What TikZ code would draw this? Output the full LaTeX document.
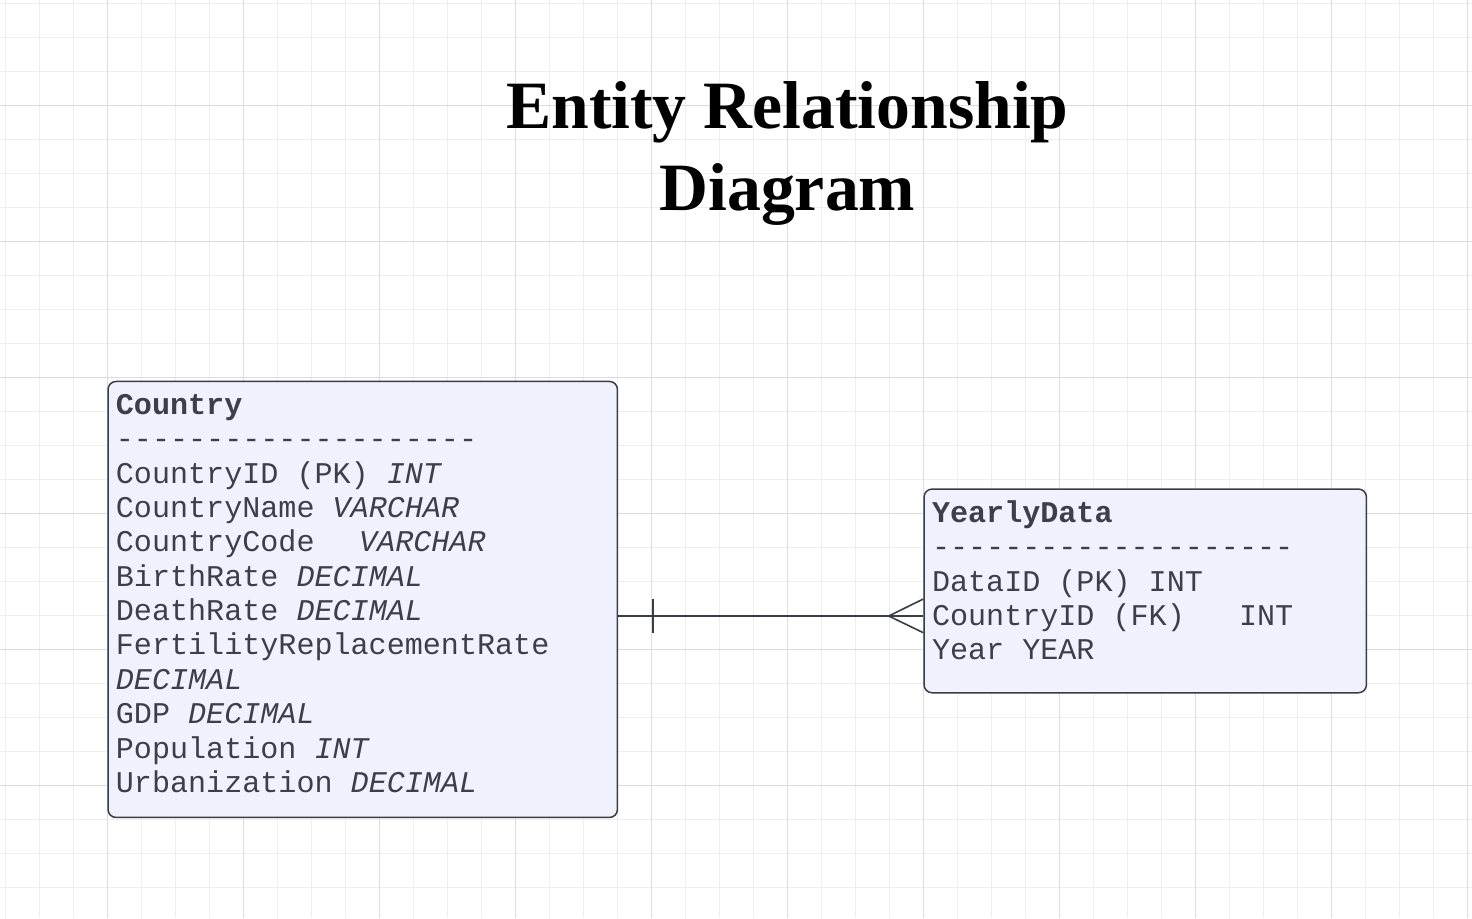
\documentclass[tikz,border=0pt]{standalone}
\usepackage{fontspec}
\setmainfont{Liberation Serif}
\setmonofont{Liberation Mono}
\usetikzlibrary{calc}
\definecolor{gridminor}{HTML}{EEEEEE}
\definecolor{gridmajor}{HTML}{DCDCDC}
\definecolor{ink}{HTML}{3C3F4A}
\definecolor{boxfill}{HTML}{F1F1FE}
\definecolor{edgecol}{HTML}{3A3D48}
\newcommand\erhy{\mbox{-}}
\newcommand\erdashrow{\erhy\erhy\erhy\erhy\erhy\erhy\erhy\erhy\erhy\erhy\erhy\erhy\erhy\erhy\erhy\erhy\erhy\erhy\erhy\erhy}
\begin{document}
\begin{tikzpicture}[x=1pt,y=-1pt,
  entity/.style={draw=edgecol, fill=boxfill, line width=1.5pt, rounded corners=8pt, inner sep=0pt, anchor=north west},
  field/.style={anchor=base west, inner sep=0pt, text=ink, font=\ttfamily\fontsize{30.1}{34.35}\selectfont},
  titletext/.style={anchor=base, inner sep=0pt, text=black, font=\bfseries\fontsize{67.7}{81.7}\selectfont},
  relation/.style={draw=edgecol, line width=1.6pt},
  minorline/.style={draw=gridminor, line width=0.8pt},
  majorline/.style={draw=gridmajor, line width=1pt}]
\useasboundingbox (0,0) rectangle (1472,918);
\fill[white] (0,0) rectangle (1472,918);
% grid
\foreach \x in {5.3,39.3,...,1472} \draw[minorline] (\x,0) -- (\x,918);
\foreach \y in {3.3,37.3,...,918} \draw[minorline] (0,\y) -- (1472,\y);
\foreach \x in {107.3,243.3,...,1472} \draw[majorline] (\x,0) -- (\x,918);
\foreach \y in {105.3,241.3,...,918} \draw[majorline] (0,\y) -- (1472,\y);
% title
\node[titletext] (title1) at (787.4,128.3) {Entity Relationship};
\node[titletext] (title2) at (787.4,210) {Diagram};
% entities
\node[entity, minimum width=509.4pt, minimum height=436pt] (country) at (107.3,380.7) {};
\node[entity, minimum width=442.4pt, minimum height=203.7pt] (yearly) at (923.3,488.3) {};
% Country fields
\node[field] (c0) at (115.7,414.5) {\textbf{Country}};
\node[field] (c1) at (115.7,448.85) {\erdashrow};
\node[field] (c2) at (115.7,483.2) {CountryID (PK) \textit{INT}};
\node[field] (c3) at (115.7,517.55) {CountryName \textit{VARCHAR}};
\node[field] (c4) at (115.7,551.9) {CountryCode \hspace*{26.5pt}\textit{VARCHAR}};
\node[field] (c5) at (115.7,586.25) {BirthRate \textit{DECIMAL}};
\node[field] (c6) at (115.7,620.6) {DeathRate \textit{DECIMAL}};
\node[field] (c7) at (115.7,654.95) {FertilityReplacementRate};
\node[field] (c8) at (115.7,689.3) {\textit{DECIMAL}};
\node[field] (c9) at (115.7,723.65) {GDP \textit{DECIMAL}};
\node[field] (c10) at (115.7,758.0) {Population \textit{INT}};
\node[field] (c11) at (115.7,792.35) {Urbanization \textit{DECIMAL}};
% YearlyData fields
\node[field] (y0) at (931.8,522.3) {\textbf{YearlyData}};
\node[field] (y1) at (931.8,556.65) {\erdashrow};
\node[field] (y2) at (931.8,591.0) {DataID (PK) INT};
\node[field] (y3) at (931.8,625.35) {CountryID (FK)\ \ \ INT};
\node[field] (y4) at (931.8,659.7) {Year YEAR};
% relationship
\coordinate (jy) at (0,616);
\coordinate (ca) at (country.east |- jy);
\coordinate (yb) at (yearly.west |- jy);
\draw[relation] (ca) -- (yb);
\draw[relation] ($(ca)+(35,-17)$) -- ($(ca)+(35,16.5)$);
\draw[relation] ($(yb)+(0,-17)$) -- ($(yb)+(-34.6,0)$) -- ($(yb)+(0,16.7)$);
\end{tikzpicture}
\end{document}
